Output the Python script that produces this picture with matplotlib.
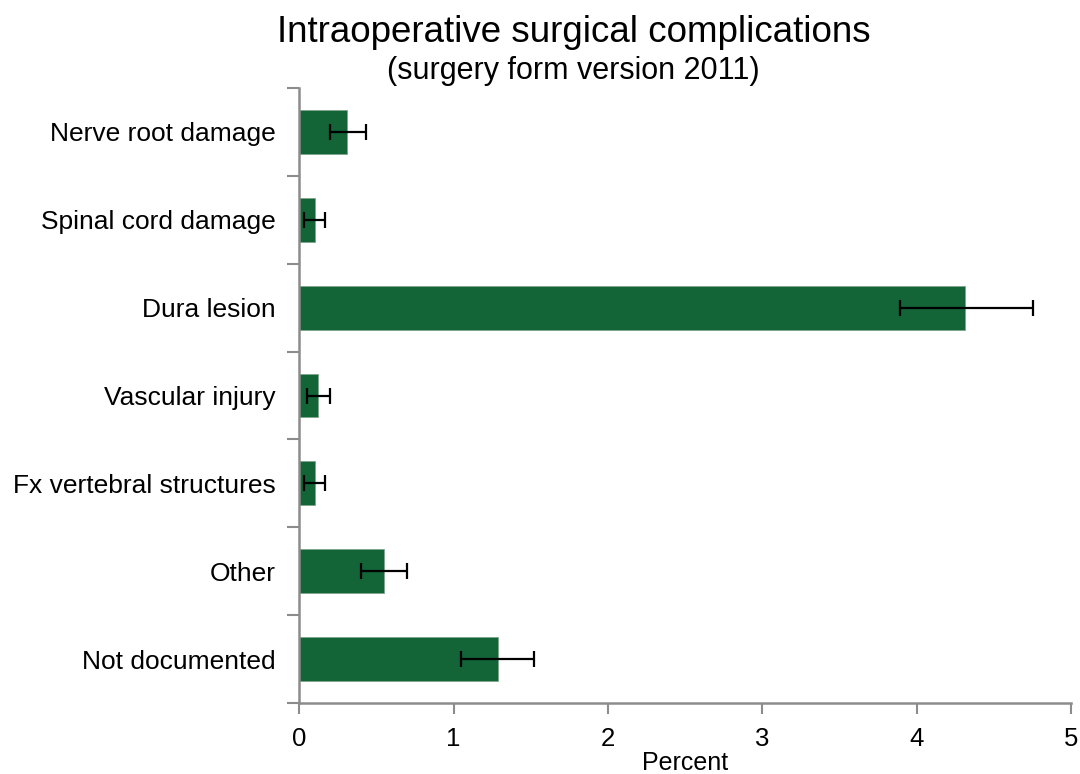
import matplotlib
import matplotlib.pyplot as plt
import numpy as np

matplotlib.use("Agg")

BAR_COLOR = "#136537"
AXIS_COLOR = "#8c8c8c"

categories = [
    "Nerve root damage",
    "Spinal cord damage",
    "Dura lesion",
    "Vascular injury",
    "Fx vertebral structures",
    "Other",
    "Not documented",
]
percent = [0.31, 0.10, 4.31, 0.12, 0.10, 0.55, 1.29]
ci_low = [0.20, 0.03, 3.89, 0.05, 0.03, 0.40, 1.05]
ci_high = [0.43, 0.17, 4.75, 0.20, 0.17, 0.70, 1.52]
x_ticks = [0, 1, 2, 3, 4, 5]

plt.rcParams.update({"font.family": ["Liberation Sans", "DejaVu Sans"]})

fig = plt.figure(figsize=(10.8, 7.74), dpi=100)
ax = fig.add_axes([0.277, 0.0917, 0.715, 0.7946])

y = np.arange(len(categories))[::-1]
vals = np.array(percent)
xerr = np.vstack([vals - np.array(ci_low), np.array(ci_high) - vals])

ax.barh(y, vals, height=0.5, color=BAR_COLOR, edgecolor="#7fa58e", linewidth=0.6)
ax.errorbar(vals, y, xerr=xerr, fmt="none", ecolor="black", elinewidth=1.6,
            capsize=5.5, capthick=1.6)

ax.set_xlim(0, 5)
ax.set_ylim(-0.5, len(categories) - 0.5)
ax.set_xticks(x_ticks)
ax.set_xticklabels([str(t) for t in x_ticks], fontsize=18.5)
ax.set_xlabel("Percent", fontsize=18, labelpad=0)

# ticks on category boundaries, labels at bar centres
ax.set_yticks(np.arange(-0.5, len(categories), 1.0))
ax.set_yticklabels([])
ax.set_yticks(y, categories, minor=True)
ax.tick_params(axis="y", which="minor", length=0, pad=17, labelsize=19)
ax.tick_params(axis="y", which="major", length=9, width=1.5, color=AXIS_COLOR)
ax.tick_params(axis="x", length=8, width=1.5, color=AXIS_COLOR, pad=9)

for side in ("top", "right"):
    ax.spines[side].set_visible(False)
for side in ("left", "bottom"):
    ax.spines[side].set_color(AXIS_COLOR)
    ax.spines[side].set_linewidth(1.8)

fig.text(0.531, 0.958, "Intraoperative surgical complications", ha="center",
         va="center", fontsize=26.5)
fig.text(0.531, 0.908, "(surgery form version 2011)", ha="center",
         va="center", fontsize=22)

fig.savefig("out.png", dpi=100)
